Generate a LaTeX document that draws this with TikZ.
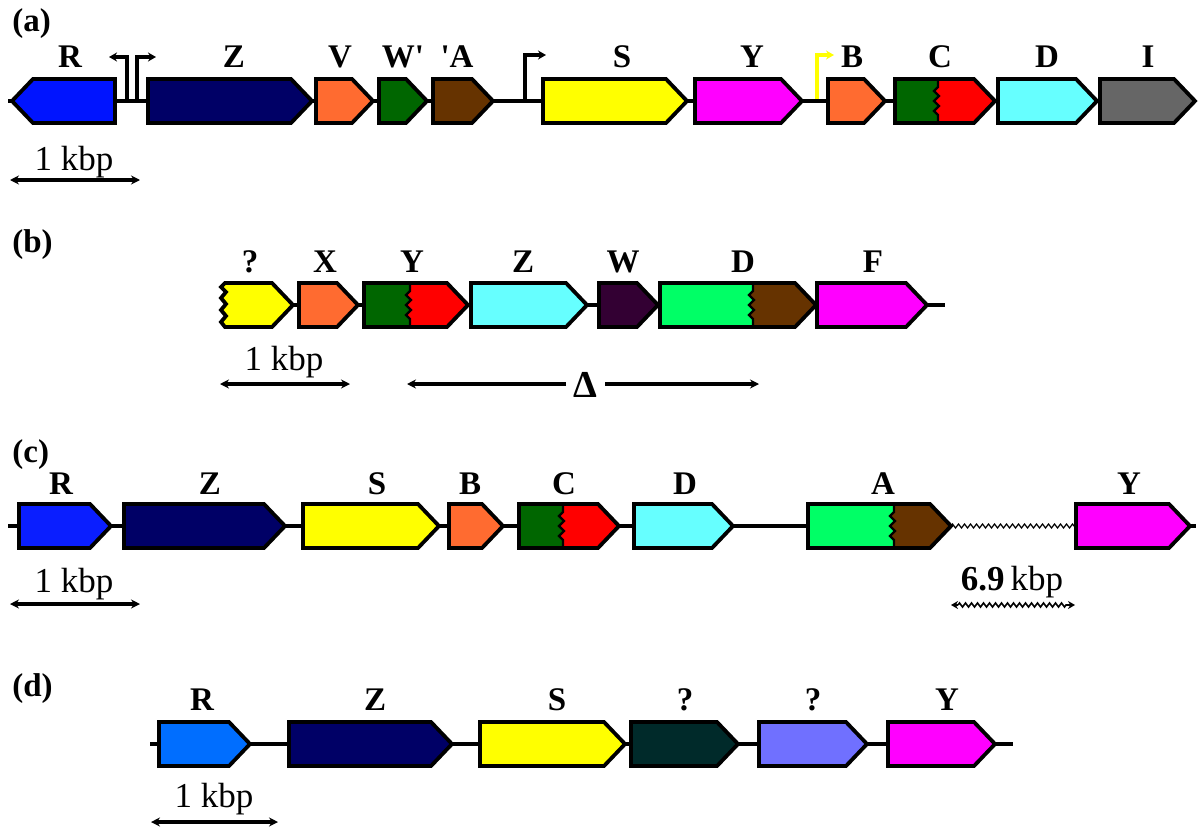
\documentclass[tikz,border=0pt]{standalone}
\usepackage{fontspec}
\setmainfont{Liberation Serif}[Ligatures=TeXOff]
\usetikzlibrary{arrows.meta,decorations.pathmorphing}
\definecolor{cBlue}{RGB}{0,20,255}
\definecolor{cBlueC}{RGB}{10,30,255}
\definecolor{cBlueD}{RGB}{0,110,255}
\definecolor{cNavy}{RGB}{0,0,102}
\definecolor{cOrange}{RGB}{255,107,48}
\definecolor{cDGreen}{RGB}{0,102,0}
\definecolor{cBrown}{RGB}{102,51,0}
\definecolor{cYellow}{RGB}{255,255,0}
\definecolor{cMagenta}{RGB}{255,0,255}
\definecolor{cRed}{RGB}{255,0,0}
\definecolor{cCyan}{RGB}{102,255,255}
\definecolor{cGrey}{RGB}{102,102,102}
\definecolor{cPurple}{RGB}{51,0,51}
\definecolor{cSpring}{RGB}{0,255,102}
\definecolor{cTeal}{RGB}{0,42,42}
\definecolor{cLav}{RGB}{112,112,255}
\newcommand{\genef}[4]{%
\filldraw[geneline,fill=#4] ({#1},{#3-22}) -- ({#2-21},{#3-22}) -- ({#2},{#3}) -- ({#2-21},{#3+22}) -- ({#1},{#3+22}) -- cycle;}
\newcommand{\genesplit}[6]{%
\fill[#5] ({#1},{#4-22}) -- ({#2},{#4-22}) -- ({#2},{#4-14}) -- ({#2-4},{#4-10}) -- ({#2+1},{#4-5}) -- ({#2-4},{#4}) -- ({#2+1},{#4+5}) -- ({#2-4},{#4+10}) -- ({#2},{#4+14}) -- ({#2},{#4+22}) -- ({#1},{#4+22}) -- cycle;
\fill[#6] ({#2},{#4-22}) -- ({#2},{#4-14}) -- ({#2-4},{#4-10}) -- ({#2+1},{#4-5}) -- ({#2-4},{#4}) -- ({#2+1},{#4+5}) -- ({#2-4},{#4+10}) -- ({#2},{#4+14}) -- ({#2},{#4+22}) -- ({#3-21},{#4+22}) -- ({#3},{#4}) -- ({#3-21},{#4-22}) -- cycle;
\draw[splitline] ({#2},{#4-22}) -- ({#2},{#4-14}) -- ({#2-4},{#4-10}) -- ({#2+1},{#4-5}) -- ({#2-4},{#4}) -- ({#2+1},{#4+5}) -- ({#2-4},{#4+10}) -- ({#2},{#4+14}) -- ({#2},{#4+22});
\draw[geneline] ({#1},{#4-22}) -- ({#3-21},{#4-22}) -- ({#3},{#4}) -- ({#3-21},{#4+22}) -- ({#1},{#4+22}) -- cycle;}
\begin{document}
\begin{tikzpicture}[x=0.5pt,y=-0.5pt,
  geneline/.style={draw=black,line width=1.9pt,line join=miter},
  splitline/.style={draw=black,line width=1.1pt,line join=miter},
  backbone/.style={line width=2pt},
  glabel/.style={font=\fontsize{16.5}{18}\selectfont\bfseries,anchor=base,inner sep=0pt},
  kbp/.style={font=\fontsize{17.5}{20}\selectfont,anchor=base,inner sep=0pt},
  panel/.style={font=\fontsize{16.5}{18}\selectfont\bfseries,anchor=base west,inner sep=0pt},
  sbar/.style={line width=1.8pt,>={Stealth[length=4.5pt,width=4.5pt]},<->},
  prom/.style={line width=1.9pt,line join=miter,>={Stealth[length=4pt,width=4.5pt]},->},
  zz/.style={line width=0.6pt,decorate,decoration={zigzag,segment length=3pt,amplitude=1pt}},
  dtip/.style={line width=1.9pt,>={Stealth[length=4.5pt,width=4.5pt]},->}]
\useasboundingbox (0,0) rectangle (1198,829);

% ================= (a) =================
\node[panel] (pa) at (12,32) {(a)};
\coordinate (a0) at (8,101); \coordinate (a1) at (1196,101);
\draw[backbone] (a0) -- (a1);
% promoters / terminators
\coordinate (p1a) at (127,101); \coordinate (p1b) at (127,57); \coordinate (p1c) at (109,57);
\draw[prom] (p1a) -- (p1b) -- (p1c);
\coordinate (p2a) at (137,101); \coordinate (p2b) at (137,57); \coordinate (p2c) at (156,57);
\draw[prom] (p2a) -- (p2b) -- (p2c);
\coordinate (p3a) at (525,101); \coordinate (p3b) at (525,55); \coordinate (p3c) at (546,55);
\draw[prom] (p3a) -- (p3b) -- (p3c);
\coordinate (p4a) at (817,99); \coordinate (p4b) at (817,55); \coordinate (p4c) at (834,55);
\draw[prom,draw=cYellow,-{Stealth[length=4pt,width=4.5pt,fill=cYellow]}] (p4a) -- (p4b) -- (p4c);
% genes
\filldraw[geneline,fill=cBlue] (115,79) -- (33,79) -- (12,101) -- (33,123) -- (115,123) -- cycle;
\genef{148}{312}{101}{cNavy}
\genef{316}{373}{101}{cOrange}
\genef{379}{427}{101}{cDGreen}
\genef{433}{493}{101}{cBrown}
\genef{543}{687}{101}{cYellow}
\genef{695}{802}{101}{cMagenta}
\genef{828}{885}{101}{cOrange}
\genesplit{895}{938}{995}{101}{cDGreen}{cRed}
\genef{998}{1097}{101}{cCyan}
\genef{1100}{1195}{101}{cGrey}
% labels
\node[glabel] (aR) at (70,68) {R};
\node[glabel] (aZ) at (234,68) {Z};
\node[glabel] (aV) at (340,68) {V};
\node[glabel] (aW) at (403,68) {W'};
\node[glabel] (aA) at (457,68) {'A};
\node[glabel] (aS) at (622,68) {S};
\node[glabel] (aY) at (752,68) {Y};
\node[glabel] (aB) at (852,68) {B};
\node[glabel] (aC) at (940,68) {C};
\node[glabel] (aD) at (1047,68) {D};
\node[glabel] (aI) at (1148,68) {I};
% scale
\node[kbp] (ak) at (74,170) {1 kbp};
\coordinate (as0) at (10,180); \coordinate (as1) at (140,180);
\draw[sbar] (as0) -- (as1);

% ================= (b) =================
\node[panel] (pb) at (12,252) {(b)};
\coordinate (b0) at (290,305); \coordinate (b1) at (945,305);
\draw[backbone] (b0) -- (b1);
\filldraw[geneline,fill=cYellow] (225,283) -- (272,283) -- (293,305) -- (272,327) -- (225,327) -- (221,322) -- (226,316) -- (221,310) -- (226,304) -- (221,298) -- (226,292) -- (221,287) -- cycle;
\genef{299}{358}{305}{cOrange}
\genesplit{364}{410}{468}{305}{cDGreen}{cRed}
\genef{471}{587}{305}{cCyan}
\genef{599}{658}{305}{cPurple}
\genesplit{660}{753}{816}{305}{cSpring}{cBrown}
\genef{817}{927}{305}{cMagenta}
\node[glabel] (bQ) at (250,272) {?};
\node[glabel] (bX) at (325,272) {X};
\node[glabel] (bY) at (412,272) {Y};
\node[glabel] (bZ) at (523,272) {Z};
\node[glabel] (bW) at (623,272) {W};
\node[glabel] (bD) at (743,272) {D};
\node[glabel] (bF) at (873,272) {F};
\node[kbp] (bk) at (284,370) {1 kbp};
\coordinate (bs0) at (220,384); \coordinate (bs1) at (350,384);
\draw[sbar] (bs0) -- (bs1);
\node[font=\fontsize{19}{21}\selectfont\bfseries,anchor=base,inner sep=0pt] (delta) at (585,397) {Δ};
\coordinate (dl0) at (566,384); \coordinate (dl1) at (407,384);
\coordinate (dr0) at (605,384); \coordinate (dr1) at (759,384);
\draw[dtip] (dl0) -- (dl1);
\draw[dtip] (dr0) -- (dr1);

% ================= (c) =================
\node[panel] (pc) at (12,462) {(c)};
\coordinate (c0) at (8,526); \coordinate (c1) at (951,526);
\coordinate (c2) at (1076,526); \coordinate (c3) at (1196,526);
\draw[backbone] (c0) -- (c1);
\draw[backbone] (c2) -- (c3);
\draw[zz] (c1) -- (c2);
\genef{19}{111}{526}{cBlueC}
\genef{124}{285}{526}{cNavy}
\genef{303}{439}{526}{cYellow}
\genef{449}{503}{526}{cOrange}
\genesplit{519}{563}{619}{526}{cDGreen}{cRed}
\genef{634}{733}{526}{cCyan}
\genesplit{808}{894}{951}{526}{cSpring}{cBrown}
\genef{1076}{1190}{526}{cMagenta}
\node[glabel] (cR) at (61,494) {R};
\node[glabel] (cZ) at (210,494) {Z};
\node[glabel] (cS) at (377,494) {S};
\node[glabel] (cB) at (470,494) {B};
\node[glabel] (cC) at (564,494) {C};
\node[glabel] (cD) at (685,494) {D};
\node[glabel] (cA) at (883,494) {A};
\node[glabel] (cY) at (1129,494) {Y};
\node[kbp] (ck) at (74,592) {1 kbp};
\coordinate (cs0) at (10,604); \coordinate (cs1) at (140,604);
\draw[sbar] (cs0) -- (cs1);
\node[kbp] (ck2) at (1012,590) {\textbf{6.9}\,kbp};
\coordinate (cw0) at (958,605); \coordinate (cw1) at (1068,605);
\coordinate (cwa) at (951,605); \coordinate (cwb) at (1075,605);
\draw[zz,line width=0.8pt] (cw0) -- (cw1);
\draw[line width=1.2pt,>={Stealth[length=3.5pt,width=4pt]},->] (cw0) -- (cwa);
\draw[line width=1.2pt,>={Stealth[length=3.5pt,width=4pt]},->] (cw1) -- (cwb);

% ================= (d) =================
\node[panel] (pd) at (12,696) {(d)};
\coordinate (d0) at (150,744); \coordinate (d1) at (1013,744);
\draw[backbone] (d0) -- (d1);
\genef{159}{250}{744}{cBlueD}
\genef{289}{452}{744}{cNavy}
\genef{480}{625}{744}{cYellow}
\genef{631}{738}{744}{cTeal}
\genef{759}{867}{744}{cLav}
\genef{888}{995}{744}{cMagenta}
\node[glabel] (dR) at (202,710) {R};
\node[glabel] (dZ) at (375,710) {Z};
\node[glabel] (dS) at (557,710) {S};
\node[glabel] (dQ1) at (685,710) {?};
\node[glabel] (dQ2) at (813,710) {?};
\node[glabel] (dY) at (947,710) {Y};
\node[kbp] (dk) at (214,807) {1 kbp};
\coordinate (ds0) at (151,822); \coordinate (ds1) at (278,822);
\draw[sbar] (ds0) -- (ds1);
\end{tikzpicture}
\end{document}
